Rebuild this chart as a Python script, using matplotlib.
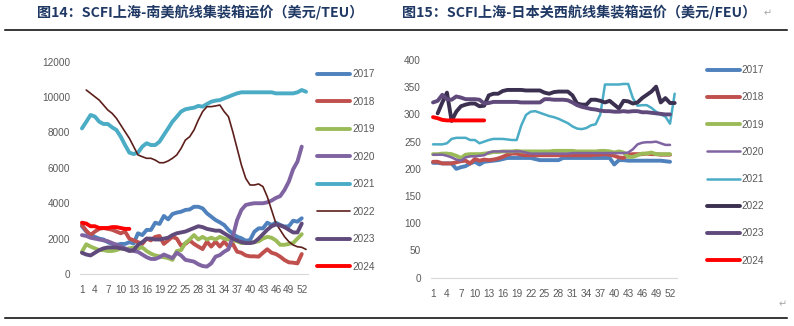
import numpy as np
import matplotlib.pyplot as plt

plt.rcParams['font.family'] = ['Noto Sans CJK SC', 'DejaVu Sans']

# ---- 图14 SCFI上海-南美 (USD/TEU), weekly ----
sa_2017 = [2700, 2400, 2200, 2100, 2000, 1950, 1800, 1700, 1650, 1700,
           1700, 1800, 1730, 2300, 2200, 2490, 2490, 2900, 2830, 3280,
           3090, 3390, 3470, 3520, 3620, 3650, 3800, 3800, 3710, 3430,
           3240, 3050, 2920, 2770, 2490, 2260, 2110, 2020, 1880, 1920,
           2390, 2580, 2580, 2900, 2770, 2900, 2770, 2680, 2700, 3010,
           2960, 3150]
sa_2018 = [2770, 2450, 2200, 2400, 2550, 2600, 2550, 2500, 2400, 2300,
           2400, 2000, 1900, 1800, 1700, 2000, 1900, 2100, 2150, 1700,
           1900, 2100, 2000, 1600, 1700, 1900, 1700, 1550, 1410, 1830,
           1550, 1830, 1550, 1830, 1550, 1700, 1260, 1200, 1050, 1000,
           1000, 980, 1200, 1400, 1200, 1130, 980, 790, 660, 640,
           600, 1130]
sa_2019 = [1260, 1680, 1550, 1450, 1350, 1350, 1300, 1300, 1350, 1450,
           1400, 1450, 1500, 1450, 1500, 1300, 1150, 1050, 1000, 950,
           900, 800, 1300, 1350, 1750, 1950, 2200, 1950, 2100, 1950,
           2050, 1950, 2100, 2000, 1950, 1900, 1850, 1750, 1750, 1750,
           1800, 1850, 2000, 2100, 2050, 1900, 1650, 1650, 1700, 1750,
           2000, 2250]
sa_2020 = [2200, 2150, 2050, 2000, 1950, 1900, 1850, 1750, 1650, 1550,
           1450, 1350, 1300, 1250, 1100, 950, 850, 850, 950, 1100,
           1000, 900, 1200, 1050, 800, 750, 700, 550, 450, 420,
           600, 980, 1070, 1260, 1400, 2110, 3050, 3620, 3900, 3960,
           4000, 4000, 4000, 4050, 4150, 4300, 4400, 4750, 5220, 5920,
           6350, 7200]
sa_2021 = [8230, 8600, 8990, 8900, 8610, 8480, 8480, 8290, 8140, 7760,
           7290, 6860, 6780, 6860, 7200, 7390, 7290, 7290, 7480, 7860,
           8230, 8610, 8890, 9180, 9310, 9360, 9400, 9500, 9460, 9610,
           9740, 9800, 9830, 9930, 10020, 10120, 10210, 10270, 10270, 10270,
           10270, 10270, 10270, 10270, 10270, 10210, 10210, 10210, 10210, 10210,
           10270, 10400, 10300]
sa_2022 = [np.nan, 10400, 10210, 10020, 9830, 9550, 9270, 9080, 8800, 8420,
           8040, 7670, 7200, 6730, 6630, 6540, 6540, 6440, 6290, 6290,
           6390, 6540, 6730, 7100, 7570, 7760, 8140, 8700, 9180, 9460,
           9460, 9500, 9550, 9180, 8890, 8040, 7100, 6160, 5410, 5030,
           5030, 5090, 4940, 4370, 3620, 2860, 2490, 2110, 1830, 1640,
           1540, 1510, 1390]
sa_2023 = [1200, 1100, 1050, 1200, 1350, 1450, 1500, 1500, 1500, 1450,
           1400, 1300, 1350, 1650, 1800, 2000, 2000, 1950, 1950, 2000,
           2050, 2200, 2300, 2350, 2400, 2500, 2600, 2700, 2650, 2550,
           2500, 2450, 2450, 2300, 2150, 2000, 1900, 1800, 1750, 1750,
           1800, 2000, 2250, 2500, 2700, 2800, 2750, 2650, 2500, 2350,
           2350, 2850]
sa_2024 = [2900, 2850, 2700, 2700, 2600, 2600, 2600, 2650, 2650, 2600,
           2550, 2550]

# ---- 图15 SCFI上海-日本关西 (USD/FEU), weekly ----
jp_2017 = [211, 211, 210, 210, 210, 200, 203, 205, 210, 213,
           208, 213, 214, 215, 216, 218, 220, 220, 220, 220,
           220, 220, 218, 216, 216, 216, 216, 216, 220, 220,
           220, 220, 220, 220, 220, 220, 220, 220, 220, 208,
           216, 216, 215, 215, 215, 215, 215, 215, 215, 215,
           214, 213]
jp_2018 = [213, 213, 210, 210, 210, 212, 214, 215, 210, 218,
           215, 217, 216, 217, 219, 222, 226, 228, 228, 226,
           225, 225, 225, 225, 225, 225, 225, 225, 225, 225,
           225, 225, 225, 225, 225, 226, 226, 227, 226, 224,
           221, 220, 226, 227, 227, 227, 228, 227, 227, 226,
           226, 226]
jp_2019 = [227, 227, 228, 228, 227, 224, 220, 226, 227, 227,
           227, 228, 229, 231, 231, 232, 232, 232, 233, 232,
           232, 232, 232, 232, 232, 232, 233, 233, 233, 233,
           233, 232, 232, 232, 232, 232, 233, 233, 232, 230,
           232, 230, 222, 222, 225, 228, 228, 230, 227, 227,
           227, 227]
jp_2020 = [226, 226, 226, 224, 221, 217, 215, 221, 223, 223,
           224, 225, 230, 232, 232, 232, 232, 232, 232, 232,
           230, 228, 228, 228, 228, 228, 228, 228, 228, 228,
           229, 229, 229, 229, 229, 229, 229, 229, 229, 229,
           229, 229, 230, 236, 245, 248, 249, 249, 250, 247,
           244, 244]
jp_2021 = [245, 245, 245, 247, 255, 257, 257, 257, 253, 253,
           247, 250, 253, 255, 255, 255, 254, 253, 253, 280,
           299, 305, 306, 303, 300, 297, 295, 292, 288, 284,
           278, 274, 273, 275, 280, 282, 300, 355, 355, 355,
           355, 356, 356, 330, 316, 317, 317, 312, 305, 300,
           296, 283, 338]
jp_2022 = [np.nan, 302, 322, 340, 288, 305, 315, 318, 320, 320,
           315, 316, 335, 338, 338, 343, 345, 345, 345, 345,
           344, 344, 344, 344, 340, 338, 341, 342, 342, 342,
           335, 320, 318, 318, 327, 327, 325, 322, 325, 318,
           311, 325, 324, 320, 322, 330, 336, 342, 351, 322,
           330, 321, 321]
jp_2023 = [322, 325, 336, 328, 327, 333, 331, 328, 328, 328,
           327, 320, 321, 323, 323, 323, 323, 323, 323, 322,
           322, 322, 322, 322, 328, 328, 327, 327, 327, 326,
           322, 317, 314, 312, 310, 309, 307, 306, 306, 305,
           305, 306, 305, 306, 306, 304, 304, 303, 302, 301,
           300, 300]
jp_2024 = [295, 293, 290, 289, 289, 289, 289, 289, 289, 289,
           289, 289]

years = ['2017', '2018', '2019', '2020', '2021', '2022', '2023', '2024']
sa_series = [sa_2017, sa_2018, sa_2019, sa_2020, sa_2021, sa_2022, sa_2023, sa_2024]
jp_series = [jp_2017, jp_2018, jp_2019, jp_2020, jp_2021, jp_2022, jp_2023, jp_2024]

colors_left = ['#4F81BD', '#C0504D', '#9BBB59', '#8064A2', '#4BACC6',
               '#5C1F1B', '#604A7B', '#FF0000']
colors_right = ['#4F81BD', '#C0504D', '#9BBB59', '#8064A2', '#4BACC6',
                '#3B3050', '#604A7B', '#FF0000']
lw_left = [2.8, 2.8, 2.8, 2.8, 2.8, 1.2, 2.8, 2.8]
lw_right = [2.8, 2.8, 2.8, 1.8, 1.8, 2.8, 2.8, 2.8]

W, H = 794, 326
TICK_COLOR = '#595959'
TITLE_COLOR = '#1F3864'
NUM_FONT = 'Liberation Sans'


def px_axes(fig, left, top, right, bottom):
    # axes from pixel box (origin top-left)
    return fig.add_axes([left / W, 1 - bottom / H, (right - left) / W, (bottom - top) / H])


def draw_panel(ax, series, colors, lws, ymax, ystep, leg_x, leg_y, spacing):
    for vals, c, lw, lab in zip(series, colors, lws, years):
        weeks = np.arange(1, len(vals) + 1)
        ax.plot(weeks, vals, color=c, lw=lw, label=lab,
                solid_joinstyle='round', solid_capstyle='round', clip_on=False)
    ax.set_xlim(0.5, 53.5)
    ax.set_ylim(0, ymax)
    ax.set_xticks(np.arange(1, 53, 3))
    ax.set_yticks(np.arange(0, ymax + 1, ystep))
    for s in ['top', 'right', 'left']:
        ax.spines[s].set_visible(False)
    ax.spines['bottom'].set_color('#D9D9D9')
    ax.spines['bottom'].set_linewidth(0.8)
    ax.tick_params(length=0, labelsize=7.2, labelcolor=TICK_COLOR)
    ax.tick_params(axis='x', pad=8)
    ax.tick_params(axis='y', pad=7)
    for t in ax.get_xticklabels() + ax.get_yticklabels():
        t.set_family(NUM_FONT)
    ax.set_facecolor('none')
    leg = ax.legend(loc='center left', bbox_to_anchor=(leg_x / W, 1 - leg_y / H),
                    bbox_transform=ax.figure.transFigure, frameon=False,
                    prop={'family': NUM_FONT, 'size': 7.2},
                    handlelength=3.3, handletextpad=0.2, labelspacing=spacing,
                    borderpad=0, borderaxespad=0)
    for t in leg.get_texts():
        t.set_color(TICK_COLOR)


fig = plt.figure(figsize=(W / 100, H / 100), dpi=100)

ax1 = px_axes(fig, 79.8, 61.7, 308.2, 274)
draw_panel(ax1, sa_series, colors_left, lw_left, 12000, 2000, 317, 170.5, 1.75)

ax2 = px_axes(fig, 430.7, 60, 677, 277.7)
draw_panel(ax2, jp_series, colors_right, lw_right, 400, 50, 706.7, 165.5, 1.72)

# titles
fig.text(37 / W, 1 - 12 / H, '图14：SCFI上海-南美航线集装箱运价（美元/TEU）',
         fontsize=10.2, fontweight='bold', color=TITLE_COLOR, va='center', ha='left')
fig.text(402 / W, 1 - 12 / H, '图15：SCFI上海-日本关西航线集装箱运价（美元/FEU）',
         fontsize=10.2, fontweight='bold', color=TITLE_COLOR, va='center', ha='left')
fig.text(764 / W, 1 - 13 / H, '↵', fontsize=7, color='#A6A6A6', va='center', ha='left',
         family=['DejaVu Sans'])
fig.text(779 / W, 1 - 304 / H, '↵', fontsize=7, color='#A6A6A6', va='center', ha='left',
         family=['DejaVu Sans'])

# separator rules
fig.add_artist(plt.Line2D([5 / W, 787 / W], [1 - 30 / H, 1 - 30 / H],
                          transform=fig.transFigure, color='black', lw=1.1))
fig.add_artist(plt.Line2D([5 / W, 787 / W], [1 - 318 / H, 1 - 318 / H],
                          transform=fig.transFigure, color='black', lw=1.1))

fig.savefig('out.png', dpi=100)
